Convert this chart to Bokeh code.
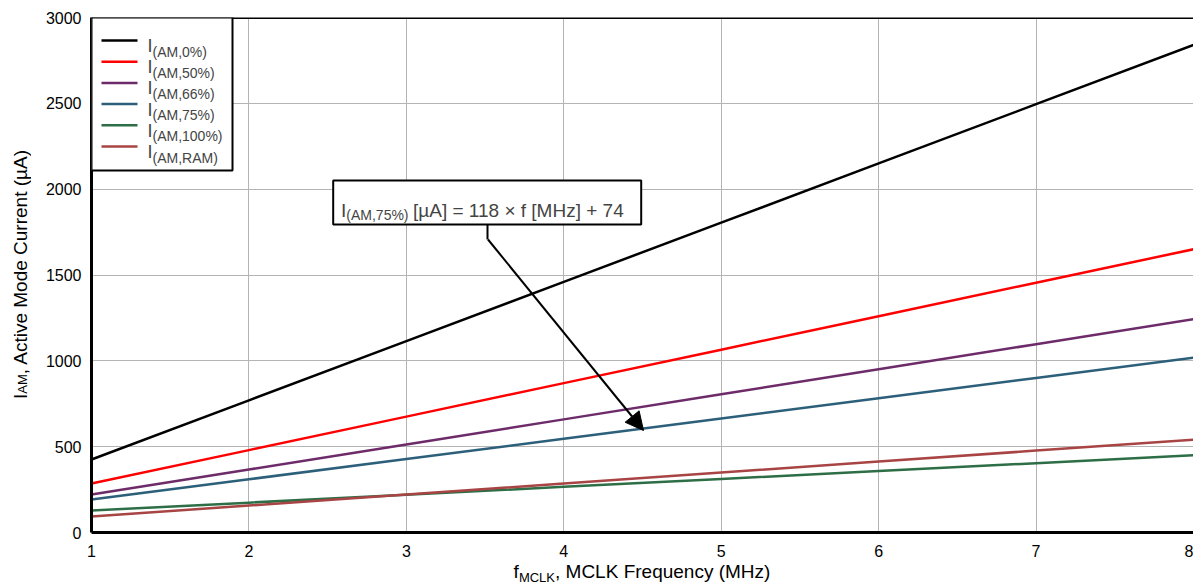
import numpy as np
from bokeh.plotting import figure
from bokeh.layouts import row, column
from bokeh.models import (Label, BoxAnnotation, Arrow, NormalHead, Range1d, FixedTicker,
                          Span, Div)
from bokeh.embed import file_html
from bokeh.resources import INLINE

# ---- data ----
freq_mhz = [1, 2, 3, 4, 5, 6, 7, 8]
i_am_0 = [425, 770, 1115, 1460, 1805, 2150, 2495, 2840]
i_am_50 = [285, 480, 675, 870, 1065, 1260, 1455, 1650]
i_am_66 = [221, 367, 513, 659, 805, 951, 1097, 1243]
i_am_75 = [192, 310, 428, 546, 664, 782, 900, 1018]
i_am_100 = [128, 174, 220, 266, 312, 358, 404, 450]
i_am_ram = [93, 157, 221, 285, 349, 413, 477, 541]

series_subs = ["(AM,0%)", "(AM,50%)", "(AM,66%)", "(AM,75%)", "(AM,100%)", "(AM,RAM)"]
series_vals = [i_am_0, i_am_50, i_am_66, i_am_75, i_am_100, i_am_ram]
series_cols = ["#000000", "#ff0000", "#6d2b6a", "#2c5f7a", "#2d6e46", "#a84444"]

x_ticks = [1, 2, 3, 4, 5, 6, 7, 8]
y_ticks = [0, 500, 1000, 1500, 2000, 2500, 3000]

FONT = "Liberation Sans"

# ---- layout geometry (page pixels) ----
W, H = 1193, 584
YT_W = 42            # width of the y-title column
P_H = 564            # height of the figure
FL, FR, FT, FB = 91, 1193, 17, 532
X0, X1, Y0, Y1 = 1, 8, 0, 3000


def dx(px):
    return X0 + (px - FL) * (X1 - X0) / (FR - FL)


def dy(py):
    return Y0 + (FB - py) * (Y1 - Y0) / (FB - FT)


p = figure(width=W - YT_W, height=P_H, output_backend="svg", toolbar_location=None,
           x_range=Range1d(X0, X1), y_range=Range1d(Y0, Y1),
           min_border_left=FL - YT_W, min_border_right=W - FR,
           min_border_top=FT, min_border_bottom=P_H - FB, margin=0)
p.background_fill_color = "white"
p.border_fill_color = "white"
p.outline_line_color = None

for ax in (p.xaxis, p.yaxis):
    ax.axis_line_color = "black"
    ax.axis_line_width = 3
    ax.major_tick_line_color = None
    ax.minor_tick_line_color = None
    ax.major_tick_out = 0
    ax.major_tick_in = 0
    ax.minor_tick_out = 0
    ax.minor_tick_in = 0
    ax.major_label_text_font = FONT
    ax.major_label_text_font_size = "16px"
    ax.major_label_text_color = "black"
p.xaxis.ticker = FixedTicker(ticks=x_ticks)
p.yaxis.ticker = FixedTicker(ticks=y_ticks)
p.xaxis.major_label_standoff = 12
p.yaxis.major_label_standoff = 10
p.xgrid.ticker = FixedTicker(ticks=x_ticks)
p.ygrid.ticker = FixedTicker(ticks=y_ticks)
for g in (p.xgrid, p.ygrid):
    g.grid_line_color = "#b4b4b4"
    g.grid_line_width = 1

for vals, col in zip(series_vals, series_cols):
    p.line(freq_mhz, vals, line_color=col, line_width=2.5)

# top border of the frame
p.add_layout(Span(location=Y1, dimension="width", line_color="black", line_width=3))

# ---- legend (drawn manually for subscripts) ----
p.add_layout(BoxAnnotation(left=dx(91), right=dx(232), top=dy(17), bottom=dy(170),
                           fill_color="white", fill_alpha=1, line_color="black",
                           line_alpha=1, line_width=2))
row_y = [40, 61.2, 82.4, 103.6, 124.8, 146]
for ry, sub, col in zip(row_y, series_subs, series_cols):
    p.add_layout(Arrow(end=None, x_start=dx(101), x_end=dx(137), y_start=dy(ry), y_end=dy(ry),
                       line_color=col, line_width=2.5))
    p.add_layout(Label(x=dx(147), y=dy(ry + 5.5), text="I", text_font=FONT,
                       text_font_size="18px", text_baseline="alphabetic", text_align="left"))
    p.add_layout(Label(x=dx(152), y=dy(ry + 11), text=sub, text_font=FONT,
                       text_font_size="14px", text_baseline="alphabetic", text_align="left"))

# ---- annotation box with arrow ----
p.add_layout(BoxAnnotation(left=dx(332.7), right=dx(640.7), top=dy(180), bottom=dy(224),
                           fill_color="white", fill_alpha=1, line_color="black",
                           line_alpha=1, line_width=2))
p.add_layout(Label(x=dx(340.5), y=dy(209.5), text="I", text_font=FONT, text_font_size="19px",
                   text_baseline="alphabetic", text_align="left"))
p.add_layout(Label(x=dx(345.8), y=dy(214.5), text="(AM,75%)", text_font=FONT, text_font_size="14px",
                   text_baseline="alphabetic", text_align="left"))
p.add_layout(Label(x=dx(412.5), y=dy(209.5), text="[µA] = 118 × f [MHz] + 74", text_font=FONT,
                   text_font_size="19px", text_baseline="alphabetic", text_align="left"))
p.add_layout(Arrow(end=None, x_start=dx(487), y_start=dy(224), x_end=dx(487), y_end=dy(239),
                   line_color="black", line_width=2))
p.add_layout(Arrow(end=NormalHead(size=18, fill_color="black", line_color="black"),
                   x_start=dx(487.5), y_start=dy(239), x_end=dx(643), y_end=dy(430),
                   line_color="black", line_width=2))

# ---- axis titles (HTML, so that subscripts stay real text) ----
y_title_html = (
    f'<div style="box-sizing:border-box;width:{YT_W}px;height:{FB - FT}px;margin-top:{FT}px;'
    'padding-left:2px;display:flex;align-items:center;justify-content:center;">'
    f'<span style="writing-mode:vertical-rl;transform:rotate(180deg);font-family:\'{FONT}\';'
    'font-size:19px;line-height:20px;white-space:nowrap;color:black;">'
    'I<span style="font-size:13px;vertical-align:-2px;">AM</span>, Active Mode Current (µA)'
    '</span></div>'
)
y_title = Div(text=y_title_html, width=YT_W, height=P_H, margin=0)

x_title_html = (
    f'<div style="width:{FR - FL}px;margin-left:{FL}px;text-align:center;'
    f'font-family:\'{FONT}\';font-size:19px;line-height:15px;white-space:nowrap;color:black;">'
    'f<span style="font-size:13px;vertical-align:-4px;">MCLK</span>, MCLK Frequency (MHz)'
    '</div>'
)
x_title = Div(text=x_title_html, width=W, height=H - P_H, margin=0)

layout = column(row(y_title, p, spacing=0, margin=0), x_title, spacing=0, margin=0)

open("out.html", "w").write(file_html(layout, INLINE))
